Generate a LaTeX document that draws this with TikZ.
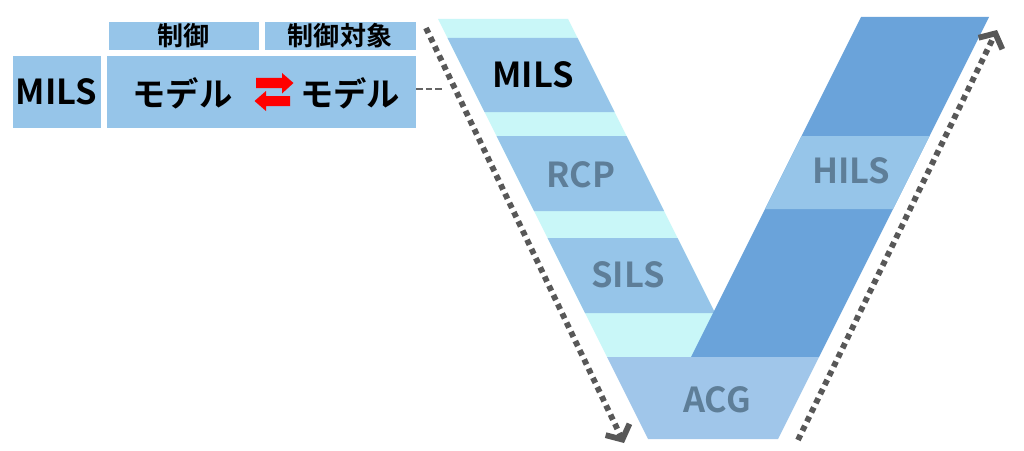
\documentclass[tikz,border=0pt]{standalone}
\usepackage{fontspec}
\setmainfont{Noto Sans CJK JP}[BoldFont={* Bold}]
\usepackage{tikz}
\usetikzlibrary{arrows.meta,calc}
\usepackage{xcolor}
\definecolor{boxblue}{RGB}{150,197,233}
\definecolor{cyanband}{RGB}{201,247,248}
\definecolor{darkband}{RGB}{106,163,218}
\definecolor{acgblue}{RGB}{160,198,234}
\definecolor{labelgray}{RGB}{94,126,152}
\definecolor{dotgray}{RGB}{88,88,88}
\definecolor{linkgray}{RGB}{100,100,100}

\begin{document}
\begin{tikzpicture}[
  x=0.25mm, y=-0.25mm,
  cell/.style={rectangle, fill=boxblue, draw=white, line width=0.3pt, inner sep=0pt, align=center},
  head/.style={cell, minimum height=7.25mm, font=\fontsize{18.5}{18}\selectfont\bfseries},
  big/.style={cell, minimum height=18.25mm, font=\fontsize{24.5}{24}\selectfont\bfseries},
  vlabel/.style={font=\fontsize{24.5}{24}\selectfont\bfseries, text=labelgray},
  flow/.style={draw=dotgray, line width=1.45mm, dash pattern=on 1.4mm off 1.15mm,
    -{Straight Barb[length=2.8mm, width=6.6mm]}},
  link/.style={draw=linkgray, line width=0.6mm, dash pattern=on 1.6mm off 0.8mm}
]
\useasboundingbox[fill=white] (0,0) rectangle (1024,450);

% left table
\node[head, minimum width=37.75mm] (ctrl) at (183.5,35.5) {制御};
\node[head, minimum width=38mm] (plant) at (340,35.5) {制御対象};
\node[big, minimum width=22.25mm] (mils) at (56.5,91.5) {MILS};
\node[big, minimum width=77.5mm] (model) at (261,91.5) {};
\node[font=\fontsize{23.7}{24}\selectfont\bfseries] (ctrlmodel) at (182.5,93) {モデル};
\node[font=\fontsize{23.7}{24}\selectfont\bfseries] (plantmodel) at (350,93) {モデル};
\fill[red] (256,78) -- (282,78) -- (282,73) -- (293.5,83) -- (282,93.5) -- (282,88) -- (256,88) -- cycle;
\fill[red] (290,96) -- (266,96) -- (266,91) -- (254.5,101) -- (266,111) -- (266,106) -- (290,106) -- cycle;

% V: left arm
\fill[cyanband] (438,19) -- (568,19) -- (737,357) -- (607,357) -- cycle;
\fill[boxblue] (447.5,38) -- (577.5,38) -- (614.5,112) -- (484.5,112) -- cycle;
\fill[boxblue] (496.5,136) -- (626.5,136) -- (664,211) -- (534,211) -- cycle;
\fill[boxblue] (547.5,238) -- (677.5,238) -- (715,313) -- (585,313) -- cycle;
% V: right arm
\fill[darkband] (861,17) -- (989,17) -- (819,357) -- (691,357) -- cycle;
\fill[boxblue] (801.5,136) -- (929.5,136) -- (893,209) -- (765,209) -- cycle;
% V: bottom
\fill[acgblue] (607,357) -- (819,357) -- (778,439) -- (648,439) -- cycle;

\node[font=\fontsize{24.5}{24}\selectfont\bfseries] (vmils) at (533,75) {MILS};
\node[vlabel] (rcp) at (581,175) {RCP};
\node[vlabel] (sils) at (628,275) {SILS};
\node[vlabel] (hils) at (851,171) {HILS};
\node[vlabel] (acg) at (717,400) {ACG};

% connectors
\coordinate (vlink) at (445,89);
\draw[link] (model.east |- vlink) -- (vlink);
\coordinate (downstart) at (426,28);
\coordinate (downend) at (624,443);
\coordinate (upstart) at (798,440);
\coordinate (upend) at (997,30);
\draw[flow] (downstart) -- (downend);
\draw[flow] (upstart) -- (upend);
\end{tikzpicture}
\end{document}
